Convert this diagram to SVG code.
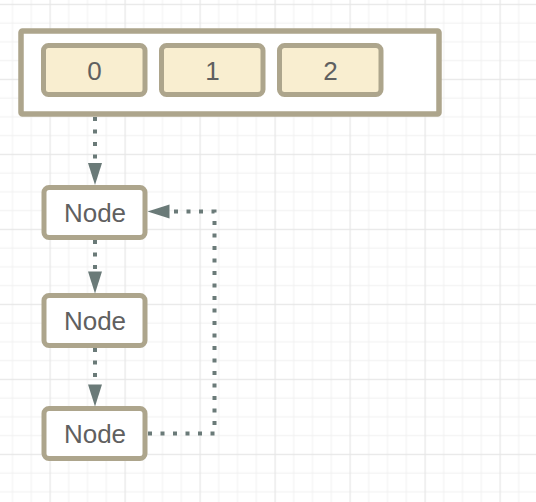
<svg xmlns="http://www.w3.org/2000/svg" width="536" height="502" viewBox="0 0 536 502">
  <defs>
    <pattern id="grid" patternUnits="userSpaceOnUse" x="49.5" y="3.8" width="75" height="75">
      <rect x="0" y="0" width="75" height="75" fill="#ffffff"/>
      <rect x="18.75" y="0" width="1" height="75" fill="#f1f1f1"/>
      <rect x="37.5" y="0" width="1" height="75" fill="#f1f1f1"/>
      <rect x="56.25" y="0" width="1" height="75" fill="#f1f1f1"/>
      <rect x="0" y="18.75" width="75" height="1" fill="#f1f1f1"/>
      <rect x="0" y="37.5" width="75" height="1" fill="#f1f1f1"/>
      <rect x="0" y="56.25" width="75" height="1" fill="#f1f1f1"/>
      <rect x="0" y="0" width="1.2" height="75" fill="#e6e6e6"/>
      <rect x="0" y="0" width="75" height="1.2" fill="#e6e6e6"/>
    </pattern>
    <marker id="arrow" markerUnits="userSpaceOnUse" markerWidth="22" markerHeight="14" refX="0" refY="7" orient="auto" overflow="visible">
      <path d="M0,0 L22,7 L0,14 Z" fill="#6a7a78"/>
    </marker>
    <style>
      .box { fill: #ffffff; stroke: #ada58c; stroke-width: 5; }
      .cell { fill: #f9eed0; stroke: #ada58c; stroke-width: 5; }
      .lbl { font-family: "Liberation Sans", Arial, sans-serif; fill: #606060; text-anchor: middle; }
      .digit { font-size: 26px; }
      .node { font-size: 26px; }
      .conn { fill: none; stroke: #6a7a78; stroke-width: 4; stroke-dasharray: 4 8.5; marker-end: url(#arrow); }
    </style>
  </defs>
  <rect x="0" y="0" width="536" height="502" fill="url(#grid)"/>

  <g id="array">
    <rect class="box" x="21" y="31" width="418" height="83" rx="1.5" style="stroke-width:5.5"/>
    <g id="cell0">
      <rect class="cell" x="43.5" y="45.5" width="101.5" height="49" rx="5"/>
      <text class="lbl digit" x="94.5" y="79.5">0</text>
    </g>
    <g id="cell1">
      <rect class="cell" x="161.5" y="45.5" width="101.5" height="49" rx="5"/>
      <text class="lbl digit" x="212.5" y="79.5">1</text>
    </g>
    <g id="cell2">
      <rect class="cell" x="279.5" y="45.5" width="101.5" height="49" rx="5"/>
      <text class="lbl digit" x="330.5" y="79.5">2</text>
    </g>
  </g>

  <g id="node1">
    <rect class="box" x="44" y="187.5" width="101" height="50" rx="5"/>
    <text class="lbl node" x="95" y="221.8">Node</text>
  </g>
  <g id="node2">
    <rect class="box" x="44" y="295.5" width="101" height="50" rx="5"/>
    <text class="lbl node" x="95" y="329.8">Node</text>
  </g>
  <g id="node3">
    <rect class="box" x="44" y="408.5" width="101" height="50" rx="5"/>
    <text class="lbl node" x="95" y="442.8">Node</text>
  </g>

  <g id="connectors">
    <path class="conn" d="M95,117 V163"/>
    <path class="conn" d="M95,240 V271.5"/>
    <path class="conn" d="M95,348 V384.5"/>
    <path class="conn" d="M148,433.5 H214.5 V211.5 H169.5"/>
  </g>
</svg>
